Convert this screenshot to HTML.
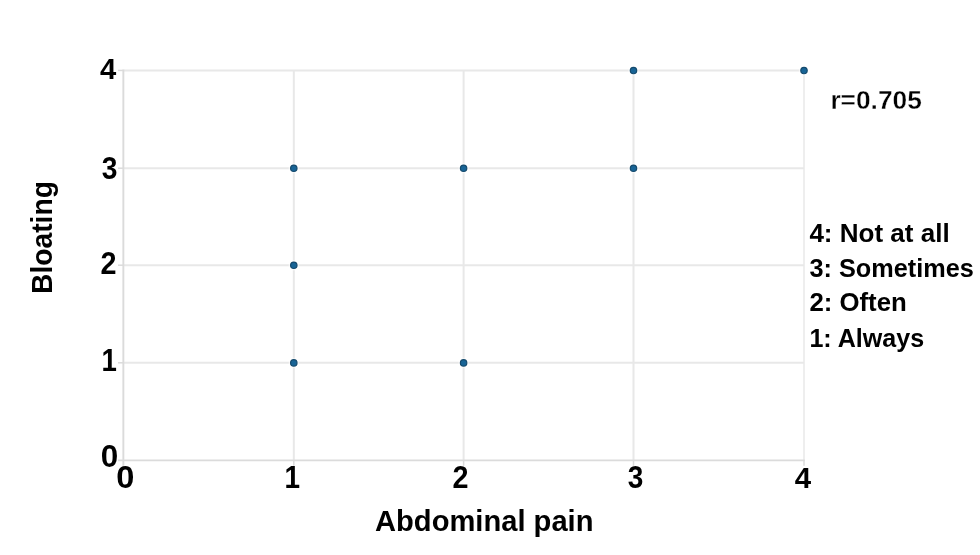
<!DOCTYPE html>
<html><head><meta charset="utf-8"><title>Scatter</title>
<style>
html,body{margin:0;padding:0;background:#fff;}
body{width:980px;height:555px;overflow:hidden;}
svg{display:block;}
text{font-family:"Liberation Sans",sans-serif;font-weight:bold;fill:#000;}
.thin{stroke:#fff;stroke-width:0.35px;}
</style></head><body>
<svg width="980" height="555" viewBox="0 0 980 555">
<rect width="980" height="555" fill="#fff"/>
<g stroke="#e8e8e8" stroke-width="2" fill="none">
<line x1="293.8" y1="70.45" x2="293.8" y2="460.4"/>
<line x1="463.6" y1="70.45" x2="463.6" y2="460.4"/>
<line x1="633.5" y1="70.45" x2="633.5" y2="460.4"/>
<line x1="123.35" y1="362.8" x2="804.0" y2="362.8"/>
<line x1="123.35" y1="265.2" x2="804.0" y2="265.2"/>
<line x1="123.35" y1="168.2" x2="804.0" y2="168.2"/>
<line x1="123.35" y1="70.45" x2="804.0" y2="70.45"/>
</g>
<g stroke="#e8e8e8" stroke-width="1.5" fill="none">
<line x1="804.0" y1="69.7" x2="804.0" y2="460.4"/>
</g>
<g stroke="#dbdbdb" stroke-width="1.9" fill="none">
<line x1="123.35" y1="69.45" x2="123.35" y2="465.8"/>
<line x1="118" y1="460.4" x2="804.8" y2="460.4"/>
</g>
<g stroke="#dbdbdb" stroke-width="1.5" fill="none">
<line x1="118" y1="362.8" x2="123.35" y2="362.8"/>
<line x1="118" y1="265.2" x2="123.35" y2="265.2"/>
<line x1="118" y1="168.2" x2="123.35" y2="168.2"/>
<line x1="118" y1="70.45" x2="123.35" y2="70.45"/>
<line x1="293.8" y1="460.4" x2="293.8" y2="465.8"/>
<line x1="463.6" y1="460.4" x2="463.6" y2="465.8"/>
<line x1="633.5" y1="460.4" x2="633.5" y2="465.8"/>
<line x1="804.0" y1="460.4" x2="804.0" y2="465.8"/>
</g>
<g fill="#fff" fill-opacity="0.5">
<circle cx="293.8" cy="362.9" r="5.2"/>
<circle cx="463.6" cy="362.9" r="5.2"/>
<circle cx="293.8" cy="265.3" r="5.2"/>
<circle cx="293.8" cy="168.3" r="5.2"/>
<circle cx="463.6" cy="168.3" r="5.2"/>
<circle cx="633.5" cy="168.3" r="5.2"/>
<circle cx="633.5" cy="70.55" r="5.2"/>
<circle cx="804.0" cy="70.55" r="5.2"/>
</g>
<g fill="#186496" stroke="#154a6d" stroke-width="1.2">
<circle cx="293.8" cy="362.9" r="3.2"/>
<circle cx="463.6" cy="362.9" r="3.2"/>
<circle cx="293.8" cy="265.3" r="3.2"/>
<circle cx="293.8" cy="168.3" r="3.2"/>
<circle cx="463.6" cy="168.3" r="3.2"/>
<circle cx="633.5" cy="168.3" r="3.2"/>
<circle cx="633.5" cy="70.55" r="3.2"/>
<circle cx="804.0" cy="70.55" r="3.2"/>
</g>
<g font-size="30">
<text transform="translate(100.06,78.65) scale(0.975,1.004)">4</text>
<text transform="translate(101.64,178.96) scale(0.941,1.035)">3</text>
<text transform="translate(100.49,273.85) scale(0.959,1.030)">2</text>
<text transform="translate(101.52,370.95) scale(0.921,1.018)">1</text>
<text transform="translate(100.84,467.09) scale(1.049,1.022)">0</text>
<text transform="translate(116.29,487.80) scale(1.088,1.018)">0</text>
<text transform="translate(284.45,487.85) scale(0.932,1.028)">1</text>
<text transform="translate(452.59,487.85) scale(0.959,1.040)">2</text>
<text transform="translate(627.65,487.96) scale(0.934,1.045)">3</text>
<text transform="translate(794.86,487.85) scale(0.981,1.008)">4</text>
</g>
<text x="375.0" y="530.5" font-size="30.2" textLength="218.5" lengthAdjust="spacingAndGlyphs">Abdominal pain</text>
<text transform="translate(52,294) rotate(-90)" font-size="30.2" textLength="113" lengthAdjust="spacingAndGlyphs">Bloating</text>
<text class="thin" x="830.4" y="108.9" font-size="26" textLength="91.4" lengthAdjust="spacingAndGlyphs">r=0.705</text>
<g font-size="25.3">
<text x="809.4" y="241.6" textLength="140.3" lengthAdjust="spacingAndGlyphs">4: Not at all</text>
<text x="809.4" y="276.7" textLength="164.4" lengthAdjust="spacingAndGlyphs">3: Sometimes</text>
<text x="809.4" y="311.4" textLength="97.4" lengthAdjust="spacingAndGlyphs">2: Often</text>
<text x="809.4" y="346.9" textLength="114.7" lengthAdjust="spacingAndGlyphs">1: Always</text>
</g>
</svg>
</body></html>
